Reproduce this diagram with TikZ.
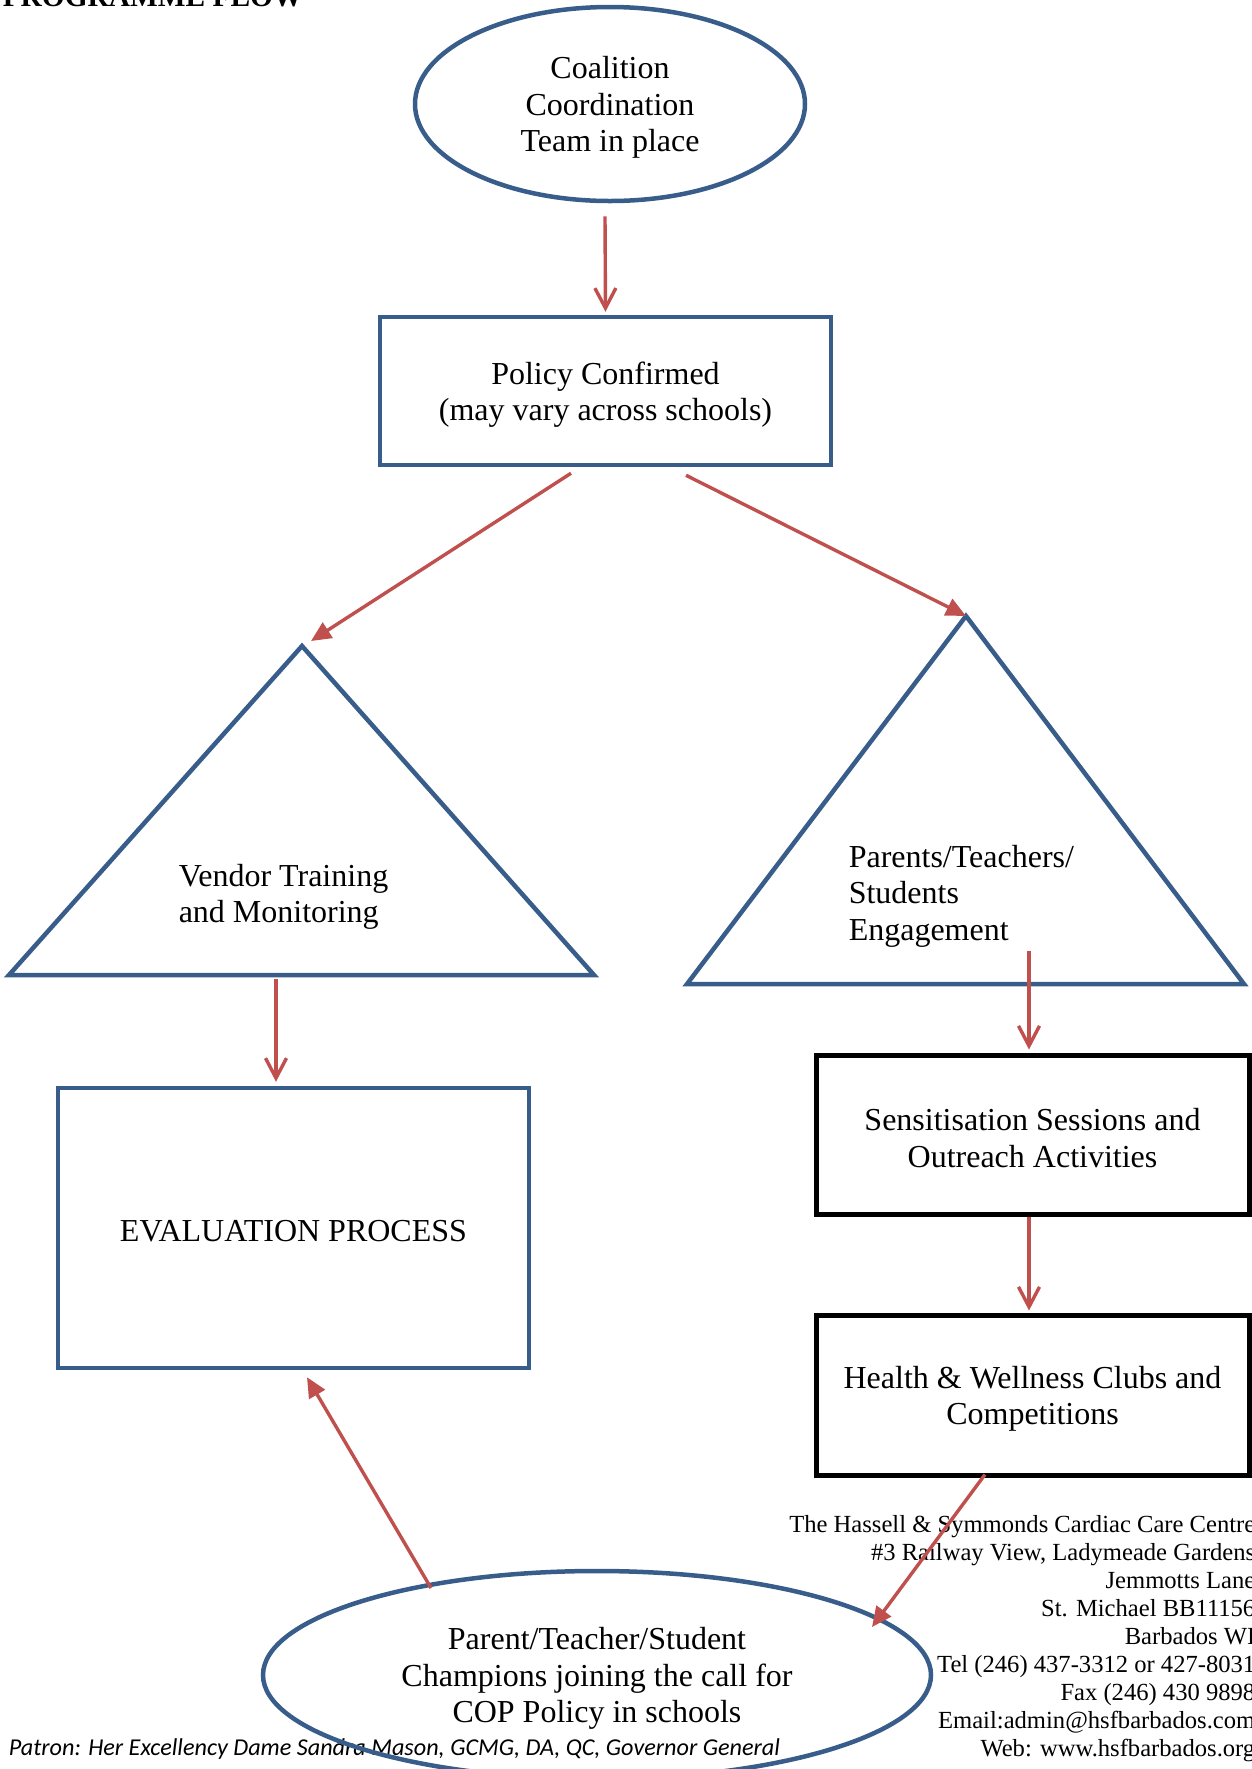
\documentclass[tikz,border=0pt]{standalone}
\usepackage{fontspec}
\setmainfont{Liberation Serif}
\newfontfamily\patronfont{Carlito}
\usetikzlibrary{shapes.geometric,arrows.meta,calc}

\definecolor{flowblue}{RGB}{56,93,138}
\definecolor{flowred}{RGB}{192,80,77}

\tikzset{every picture/.style={line width=0.75pt}}
\tikzset{
  boxtext/.style={inner sep=0pt, align=center, font=\fontsize{16}{18.3}\selectfont},
  boxlabel/.style={label={[boxtext, yshift=-1.8pt]center:#1}},
  bluebox/.style={draw=flowblue, line width=2.25pt, rectangle, inner sep=0pt},
  blackbox/.style={bluebox, draw=black, line width=2.5pt},
  blueoval/.style={bluebox, ellipse},
  trianglebox/.style={draw=flowblue, line width=2.25pt, line join=miter},
  triangletext/.style={anchor=west, inner sep=0pt, align=left, font=\fontsize{16}{18.3}\selectfont},
  downarrow/.style={draw=flowred, line width=1.7pt, -{Straight Barb[length=10pt,width=10.5pt]}},
  slantarrow/.style={draw=flowred, line width=1.7pt, -{Triangle[length=10pt,width=9pt]}},
}

\begin{document}
\begin{tikzpicture}[x=0.5pt,y=0.5pt,yscale=-1,xscale=1]
\useasboundingbox (0,0) rectangle (1252,1769);

% Text Node
\draw (2,6) node [anchor=base west][inner sep=0pt] (title) {\fontsize{14.7}{16}\selectfont\bfseries PROGRAMME FLOW};

%Shape: Ellipse
\node [blueoval, minimum width=195pt, minimum height=97pt, boxlabel={Coalition\\Coordination\\Team in place}] (coalition) at (610,104) {};

%Shape: Rectangle
\node [bluebox, minimum width=225.5pt, minimum height=74pt, boxlabel={Policy Confirmed\\(may vary across schools)}] (policy) at (605.5,391) {};

%Shape: Triangle
\coordinate (vendorL) at (9,975);
\coordinate (vendorTop) at (302,646);
\coordinate (vendorR) at (594,975);
\draw [trianglebox] (vendorL) -- (vendorTop) -- (vendorR) -- cycle;
% Text Node
\node [triangletext] (vendor) at (178,897) {Vendor Training\\and Monitoring};

%Shape: Triangle
\coordinate (parentsL) at (687,984);
\coordinate (parentsTop) at (966,616);
\coordinate (parentsR) at (1244,984);
\draw [trianglebox] (parentsL) -- (parentsTop) -- (parentsR) -- cycle;
% Text Node
\node [triangletext] (parents) at (848,896) {Parents/Teachers/\\Students\\Engagement};

%Shape: Rectangle
\node [bluebox, minimum width=235.5pt, minimum height=140pt, boxlabel={EVALUATION PROCESS}] (evaluation) at (293.5,1228) {};

%Shape: Rectangle
\node [blackbox, minimum width=216.5pt, minimum height=79.5pt, boxlabel={Sensitisation Sessions and\\Outreach Activities}] (sensitise) at (1032.5,1134.5) {};

%Shape: Rectangle
\node [blackbox, minimum width=216.5pt, minimum height=80pt, boxlabel={Health \& Wellness Clubs and\\Competitions}] (clubs) at (1032.5,1395) {};

% Text Node
\node [anchor=north east, inner sep=0pt, align=right, font=\fontsize{12.3}{14}\selectfont] (address) at (1256,1515) {The Hassell \& Symmonds Cardiac Care Centre\\\#3 Railway View, Ladymeade Gardens\\Jemmotts Lane\\St. Michael BB11156\\Barbados WI\\Tel (246) 437-3312 or 427-8031\\Fax (246) 430 9898\\Email:admin@hsfbarbados.com\\Web: www.hsfbarbados.org};

% Text Node
\node [anchor=base west, inner sep=0pt, font=\patronfont\itshape\fontsize{12.1}{14}\selectfont] (patron) at (8,1755) {Patron: Her Excellency Dame Sandra Mason, GCMG, DA, QC, Governor General};

%Shape: Ellipse
\node [blueoval, minimum width=334pt, minimum height=104pt, boxlabel={Parent/Teacher/Student\\Champions joining the call for\\COP Policy in schools}] (champions) at (597,1675) {};

%Straight Lines
\draw [downarrow] ($(coalition.south)+(-5,13)$) -- ($(policy.north)+(0,-3)$);
%Straight Lines
\draw [slantarrow] ($(policy.south)+(-34.5,6)$) -- ($(vendorTop)+(9,-5)$);
%Straight Lines
\draw [slantarrow] ($(policy.south)+(80.5,8)$) -- (parentsTop);
%Straight Lines
\draw [downarrow] ($(evaluation.north)+(-17.5,-107)$) -- ($(evaluation.north)+(-17.5,-4)$);
%Straight Lines
\draw [downarrow] ($(sensitise.north)+(-3.5,-102)$) -- ($(sensitise.north)+(-3.5,-3)$);
%Straight Lines
\draw [downarrow] ($(sensitise.south)+(-3.5,0)$) -- ($(clubs.north)+(-3.5,-2)$);
%Straight Lines
\draw [slantarrow] ($(clubs.south)+(-47.5,-3)$) -- ($(champions.center)+(275,-48)$);
%Straight Lines
\draw [slantarrow] ($(champions.center)+(-166,-87)$) -- ($(evaluation.south)+(13.5,7)$);

\end{tikzpicture}
\end{document}
